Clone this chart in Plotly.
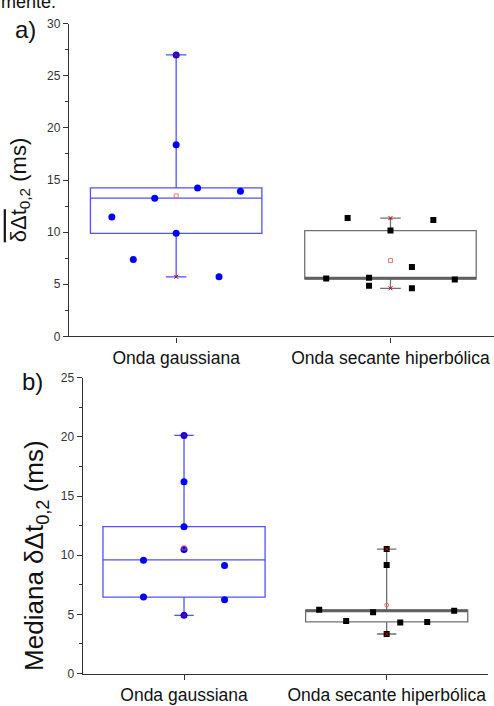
import numpy as np
import plotly.graph_objects as go

categories = ["Onda gaussiana", "Onda secante hiperbólica"]
cat_pos = [1, 2]

# panel a) values (ms) and their horizontal jitter
a_gauss_vals = [11.45, 7.37, 13.26, 27.0, 18.37, 9.88, 14.24, 5.71, 13.92]
a_gauss_offs = [-0.3, -0.2, -0.1, 0, 0, 0, 0.1, 0.2, 0.3]
a_sech_vals = [5.55, 11.35, 5.61, 4.86, 10.16, 6.65, 4.61, 11.17, 5.46]
a_sech_offs = [-0.3, -0.2, -0.1, -0.1, 0, 0.1, 0.1, 0.2, 0.3]
# box statistics panel a) : q1, median, q3
a_gauss_box = [9.88, 13.26, 14.24]
a_sech_box = [5.52, 5.58, 10.14]

# panel b)
b_gauss_vals = [9.58, 6.46, 20.13, 16.21, 12.40, 10.49, 4.92, 9.14, 6.24]
b_gauss_offs = [-0.2, -0.2, 0, 0, 0, 0, 0, 0.2, 0.2]
b_sech_vals = [5.39, 4.44, 5.19, 10.52, 9.17, 3.34, 4.31, 4.36, 5.30]
b_sech_offs = [-0.333, -0.2, -0.067, 0, 0, 0, 0.067, 0.2, 0.333]
b_gauss_box = [6.46, 9.60, 12.42]
b_sech_box = [4.37, 5.30, 5.36]

BLUE_LINE = "#5050ff"
BLUE_PT = "#0000ff"
GREY_LINE = "#707070"
FONT = "Liberation Sans, Arial, sans-serif"

fig = go.Figure()


def add_group(xa, ya, pos, vals, offs, box, line_color, pt_color, symbol, pt_size,
              thick_median=False, mean_symbol="square-open"):
    q1, med, q3 = box
    vmin, vmax = min(vals), max(vals)
    fig.add_trace(go.Box(
        x=[pos], q1=[q1], median=[med], q3=[q3], lowerfence=[vmin], upperfence=[vmax],
        width=0.8, whiskerwidth=0.12, boxpoints=False,
        line=dict(color=line_color, width=1.3), fillcolor="rgba(0,0,0,0)",
        xaxis=xa, yaxis=ya, showlegend=False, hoverinfo="skip"))
    if thick_median:
        fig.add_trace(go.Scatter(
            x=[pos - 0.4, pos + 0.4], y=[med, med], mode="lines",
            line=dict(color="#606060", width=3), xaxis=xa, yaxis=ya,
            showlegend=False, hoverinfo="skip"))
    fig.add_trace(go.Scatter(
        x=[pos + o for o in offs], y=vals, mode="markers",
        marker=dict(symbol=symbol, size=pt_size, color=pt_color, line=dict(width=0)),
        xaxis=xa, yaxis=ya, showlegend=False))
    # mean marker
    fig.add_trace(go.Scatter(
        x=[pos], y=[float(np.mean(vals))], mode="markers",
        marker=dict(symbol=mean_symbol, size=4, color="#ff5050", line=dict(width=0.8, color="#ff5050")),
        xaxis=xa, yaxis=ya, showlegend=False))
    # min / max markers
    fig.add_trace(go.Scatter(
        x=[pos, pos], y=[vmin, vmax], mode="markers",
        marker=dict(symbol="x-thin", size=4, color="#cc0000", line=dict(width=1, color="#cc0000")),
        xaxis=xa, yaxis=ya, showlegend=False))


add_group("x", "y", cat_pos[0], a_gauss_vals, a_gauss_offs, a_gauss_box, BLUE_LINE, BLUE_PT, "circle", 7)
add_group("x", "y", cat_pos[1], a_sech_vals, a_sech_offs, a_sech_box, GREY_LINE, "#000000", "square", 6,
          thick_median=True)
add_group("x2", "y2", cat_pos[0], b_gauss_vals, b_gauss_offs, b_gauss_box, BLUE_LINE, BLUE_PT, "circle", 7)
add_group("x2", "y2", cat_pos[1], b_sech_vals, b_sech_offs, b_sech_box, GREY_LINE, "#000000", "square", 6,
          thick_median=True, mean_symbol="circle-open")

W, H = 494, 706


def px_x(v):
    return v / W


def px_y(v):
    return 1 - v / H


yax_common = dict(showline=True, linecolor="#333333", linewidth=1.4, ticks="outside", ticklen=5,
                  tickwidth=1.2, tickcolor="#333333", dtick=5, tick0=0, showgrid=False, zeroline=False,
                  tickfont=dict(family=FONT, size=12, color="#333333"),
                  minor=dict(ticks="outside", ticklen=3, tickcolor="#333333", dtick=2.5, showgrid=False))
xax_common = dict(showline=True, linecolor="#333333", linewidth=1.4, ticks="outside", ticklen=5,
                  tickwidth=1.2, tickcolor="#333333", tickvals=cat_pos, ticktext=categories,
                  showgrid=False, zeroline=False, tickfont=dict(family=FONT, size=17.5, color="#111111"))

fig.update_layout(
    width=W, height=H, margin=dict(l=0, r=0, t=0, b=0),
    paper_bgcolor="white", plot_bgcolor="white", showlegend=False,
    xaxis=dict(xax_common, domain=[px_x(69), 1], range=[0.5, 2.483], anchor="y"),
    yaxis=dict(yax_common, domain=[px_y(336), px_y(17)], range=[0, 30], anchor="x"),
    xaxis2=dict(xax_common, domain=[px_x(82.7), px_x(488)], range=[0.5, 2.5], anchor="y2"),
    yaxis2=dict(yax_common, domain=[px_y(680), px_y(378.3)], range=[0, 25], anchor="x2"),
)

ann = [
    dict(text="mente.", x=px_x(-1), y=px_y(7), xanchor="left", yanchor="bottom", size=18),
    dict(text="a)", x=px_x(13), y=px_y(23), xanchor="left", yanchor="middle", size=24),
    dict(text="b)", x=px_x(20), y=px_y(382), xanchor="left", yanchor="middle", size=24),
]
for a in ann:
    fig.add_annotation(text=a["text"], x=a["x"], y=a["y"], xref="paper", yref="paper",
                       xanchor=a["xanchor"], yanchor=a["yanchor"], showarrow=False,
                       font=dict(family=FONT, size=a["size"], color="#111111"))

fig.add_annotation(text='<span style="text-decoration:overline">δΔt</span><sub>0,2</sub> (ms)',
                   x=px_x(20), y=px_y(187), xref="paper", yref="paper", textangle=-90,
                   xanchor="center", yanchor="middle",
                   showarrow=False, font=dict(family=FONT, size=22, color="#111111"))
fig.add_annotation(text="Mediana δΔt<sub>0,2</sub> (ms)",
                   x=px_x(36), y=px_y(560), xref="paper", yref="paper", textangle=-90,
                   xanchor="center", yanchor="middle",
                   showarrow=False, font=dict(family=FONT, size=26, color="#111111"))

fig.write_html("out.html")
